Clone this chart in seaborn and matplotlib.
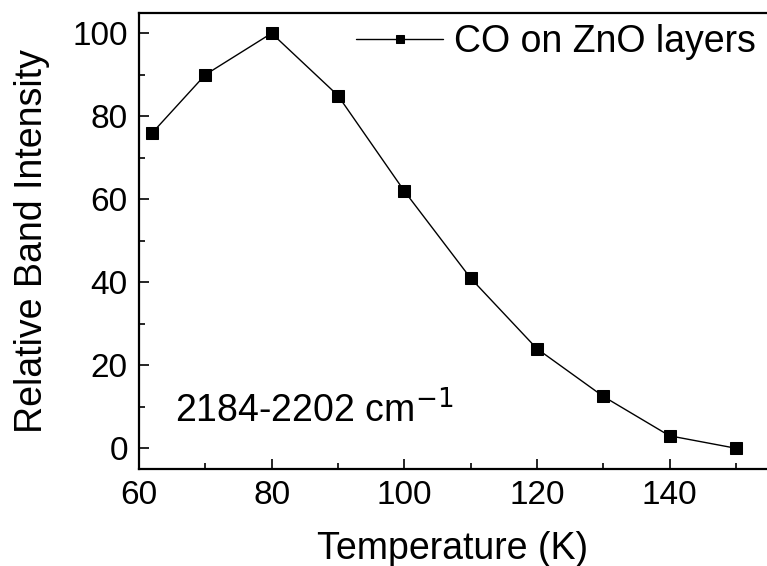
import matplotlib
matplotlib.use("Agg")
import matplotlib.pyplot as plt
import seaborn as sns
import pandas as pd
from matplotlib.ticker import MultipleLocator

temperature = [62, 70, 80, 90, 100, 110, 120, 130, 140, 150]
intensity = [76, 90, 100, 85, 62, 41, 24, 12.5, 3, 0]
series_name = "CO on ZnO layers"

df = pd.DataFrame({"T": temperature, "I": intensity, "s": series_name})

sns.set_theme(style="ticks", rc={"text.color": "black", "axes.labelcolor": "black",
                                 "xtick.color": "black", "ytick.color": "black"})
plt.rcParams['font.family'] = ['Liberation Sans', 'DejaVu Sans']

fig = plt.figure(figsize=(7.67, 5.66), dpi=100)
ax = fig.add_axes([0.1812, 0.1714, 0.8188, 0.8065])

sns.lineplot(data=df, x="T", y="I", hue="s", palette=["black"], marker="s",
             markersize=8, markeredgecolor="black", linewidth=1.0, ax=ax)

ax.set_xlim(60, 154.7)
ax.set_ylim(-5, 105)
ax.xaxis.set_major_locator(MultipleLocator(20))
ax.xaxis.set_minor_locator(MultipleLocator(10))
ax.yaxis.set_major_locator(MultipleLocator(20))
ax.yaxis.set_minor_locator(MultipleLocator(10))
ax.tick_params(which="both", direction="in", top=False, right=False, width=1.2, colors="black")
ax.tick_params(which="major", length=7, labelsize=24, pad=8)
ax.tick_params(which="minor", length=4)
ax.spines["right"].set_visible(False)
for sp in ax.spines.values():
    sp.set_linewidth(1.6)
    sp.set_color("black")

ax.set_xlabel("Temperature (K)", fontsize=27, labelpad=14, color="black")
ax.set_ylabel("Relative Band Intensity", fontsize=27, labelpad=16, color="black")

ax.text(65.4, 6.3, "2184-2202 cm$^{-1}$", fontsize=27, va="baseline", ha="left",
        color="black")

leg = ax.legend(loc="upper right", frameon=False, fontsize=27, handlelength=2.3,
                borderaxespad=0.1, borderpad=0.2, handletextpad=0.3, labelcolor="black")
for h in leg.legend_handles:
    h.set_markersize(6)

fig.savefig("out.png", dpi=100)
